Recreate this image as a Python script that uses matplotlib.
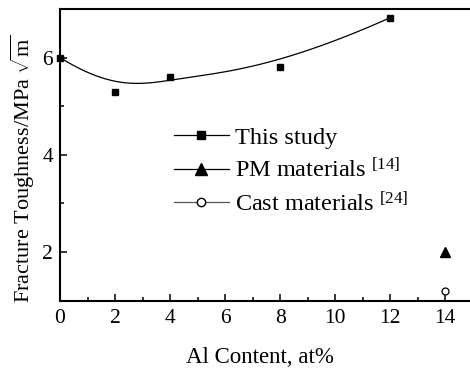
import numpy as np
import matplotlib
matplotlib.use("Agg")
import matplotlib.pyplot as plt

plt.rcParams['font.family'] = ['Liberation Serif', 'DejaVu Serif']
plt.rcParams['mathtext.fontset'] = 'custom'
plt.rcParams['mathtext.rm'] = 'Liberation Serif'
plt.rcParams['mathtext.it'] = 'Liberation Serif:italic'

# data
study_x = [0, 2, 4, 8, 12]
study_y = [6.0, 5.30, 5.60, 5.81, 6.82]
pm_x = [14]
pm_y = [2.0]
cast_x = [14]
cast_y = [1.2]
xticks = [0, 2, 4, 6, 8, 10, 12, 14]
yticks = [2, 4, 6]


def bspline(px, py, n=200, k=3):
    px = np.asarray(px, float); py = np.asarray(py, float)
    m = len(px)
    inner = np.linspace(0, 1, m - k + 1)[1:-1]
    t = np.concatenate([np.zeros(k + 1), inner, np.ones(k + 1)])
    u = np.linspace(0, 1, n)
    u[-1] = 1 - 1e-12

    def basis(i, kk, uu):
        if kk == 0:
            return np.where((t[i] <= uu) & (uu < t[i + 1]), 1.0, 0.0)
        a = 0.0
        if t[i + kk] != t[i]:
            a = (uu - t[i]) / (t[i + kk] - t[i]) * basis(i, kk - 1, uu)
        b = 0.0
        if t[i + kk + 1] != t[i + 1]:
            b = (t[i + kk + 1] - uu) / (t[i + kk + 1] - t[i + 1]) * basis(i + 1, kk - 1, uu)
        return a + b

    B = np.array([basis(i, k, u) for i in range(m)])
    return B.T @ px, B.T @ py


fig = plt.figure(figsize=(4.7, 3.7), dpi=100)
ax = fig.add_axes([0.1277, 0.1873, 0.878, 0.7884])

cx, cy = bspline(study_x, study_y)
ax.plot(cx, cy, color='black', lw=0.9, zorder=2)
ax.plot(study_x, study_y, ls='none', marker='s', ms=4.8, color='black', zorder=3, clip_on=False)
ax.plot(pm_x, pm_y, ls='none', marker='^', ms=6.5, color='black')
ax.plot(cast_x, cast_y, ls='none', marker='o', ms=5, mfc='white', mec='black', mew=0.9)

# legend proxies
h1, = ax.plot([], [], color='black', lw=0.9, marker='s', ms=6.3)
h2, = ax.plot([], [], color='black', lw=0.9, marker='^', ms=8)
h3, = ax.plot([], [], color='#555555', lw=0.9, marker='o', ms=6, mfc='white', mec='black')
leg = ax.legend([h1, h2, h3],
                ['This study', 'PM materials $^{[14]}$', 'Cast materials $^{[24]}$'],
                loc='upper left', bbox_to_anchor=(0.276, 0.596), frameon=False,
                fontsize=17.5, handlelength=2.26, handletextpad=0.25,
                labelspacing=0.37, numpoints=1, borderaxespad=0, borderpad=0)

ax.set_xlim(0, 15)
ax.set_ylim(1, 7)
ax.set_xticks(xticks)
ax.set_xticks(np.arange(1, 15, 2), minor=True)
ax.set_yticks(yticks)
ax.set_yticks([1, 3, 5, 7], minor=True)
ax.tick_params(which='both', direction='in', labelsize=15.5, width=1.1)
ax.tick_params(which='major', length=5)
ax.tick_params(which='minor', length=3)
ax.tick_params(axis='x', pad=6)
ax.tick_params(axis='y', pad=5)
for s in ax.spines.values():
    s.set_linewidth(1.5)

ax.set_xlabel('Al Content, at%', fontsize=16.5, labelpad=14, x=0.485)
ax.set_ylabel(r'Fracture Toughness/MPa $\sqrt{\rm m}$', fontsize=16, labelpad=4, y=0.4515)

fig.savefig('out.png', dpi=100)
